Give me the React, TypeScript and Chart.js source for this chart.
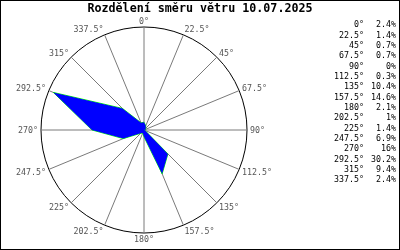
import React, { useEffect, useRef } from "react";
import { Chart, registerables } from "chart.js";

Chart.register(...registerables);

const TITLE = "Rozdělení směru větru 10.07.2025";
const directions: number[] = [0, 22.5, 45, 67.5, 90, 112.5, 135, 157.5, 180, 202.5, 225, 247.5, 270, 292.5, 315, 337.5];
const directionLabels: string[] = ["0°", "22.5°", "45°", "67.5°", "90°", "112.5°", "135°", "157.5°", "180°", "202.5°", "225°", "247.5°", "270°", "292.5°", "315°", "337.5°"];
const percentages: number[] = [2.4, 1.4, 0.7, 0.7, 0, 0.3, 10.4, 14.6, 2.1, 1, 1.4, 6.9, 16, 30.2, 9.4, 2.4];
const percentLabels: string[] = ["2.4%", "1.4%", "0.7%", "0.7%", "0%", "0.3%", "10.4%", "14.6%", "2.1%", "1%", "1.4%", "6.9%", "16%", "30.2%", "9.4%", "2.4%"];
const SCALE_MAX = 31.7;

const LABEL_FONT = "8.3px 'DejaVu Sans Mono', monospace";
const TITLE_FONT = "bold 11.7px 'DejaVu Sans Mono', monospace";

const decorPlugin = {
  id: "decor",
  beforeDraw(chart: any) {
    const ctx = chart.ctx;
    ctx.save();
    ctx.fillStyle = "#ffffff";
    ctx.fillRect(0, 0, chart.width, chart.height);
    ctx.restore();
  },
  afterDraw(chart: any) {
    const ctx = chart.ctx;
    const scale = chart.scales.r;
    ctx.save();
    // point labels
    ctx.font = LABEL_FONT;
    ctx.fillStyle = "#555555";
    ctx.textBaseline = "middle";
    const R = scale.drawingArea;
    directionLabels.forEach((lab, i) => {
      const px = scale.getPointPosition(i, R + 3).x;
      const py = scale.getPointPosition(i, R + 6).y + 1;
      const d = directions[i];
      ctx.textAlign = d === 0 || d === 180 ? "center" : d < 180 ? "left" : "right";
      ctx.fillText(lab, px, py);
    });
    // title
    ctx.font = TITLE_FONT;
    ctx.fillStyle = "#000000";
    ctx.textAlign = "center";
    ctx.fillText(TITLE, 200, 9);
    // side table
    ctx.font = LABEL_FONT;
    ctx.fillStyle = "#000000";
    directionLabels.forEach((lab, i) => {
      const y = 25 + i * 10.35;
      ctx.textAlign = "right";
      ctx.fillText(lab, 364, y);
      ctx.fillText(percentLabels[i], 396, y);
    });
    // frame
    ctx.strokeStyle = "#000000";
    ctx.lineWidth = 1;
    ctx.strokeRect(0.5, 0.5, chart.width - 1, chart.height - 1);
    ctx.restore();
  },
};

export default function App() {
  const ref = useRef<HTMLCanvasElement | null>(null);
  useEffect(() => {
    if (!ref.current) return;
    const chart = new Chart(ref.current, {
      type: "radar",
      data: {
        labels: directionLabels,
        datasets: [
          {
            label: "fill",
            data: percentages,
            backgroundColor: "#0000ff",
            borderColor: "#0000ff",
            borderWidth: 0,
            fill: true,
            pointRadius: 0,
            tension: 0,
          },
          {
            label: "edge",
            data: percentages,
            borderColor: "#00ff00",
            borderWidth: 1,
            fill: false,
            pointRadius: 0,
            tension: 0,
          },
        ],
      },
      options: {
        responsive: false,
        animation: false,
        events: [],
        layout: { padding: { left: 41, top: 27, right: 153, bottom: 17 } },
        plugins: { legend: { display: false }, title: { display: false }, tooltip: { enabled: false } },
        scales: {
          r: {
            min: 0,
            max: SCALE_MAX,
            ticks: { display: false, stepSize: SCALE_MAX },
            grid: { circular: true, color: "#000000", lineWidth: 1 },
            angleLines: { display: true, color: "#7a7a7a", lineWidth: 1 },
            pointLabels: { display: false },
          },
        },
      },
      plugins: [decorPlugin],
    });
    return () => chart.destroy();
  }, []);
  return (
    <div style={{ position: "absolute", left: 0, top: 0, width: 400, height: 250 }}>
      <canvas ref={ref} width={400} height={250} style={{ width: 400, height: 250, display: "block" }} />
    </div>
  );
}
